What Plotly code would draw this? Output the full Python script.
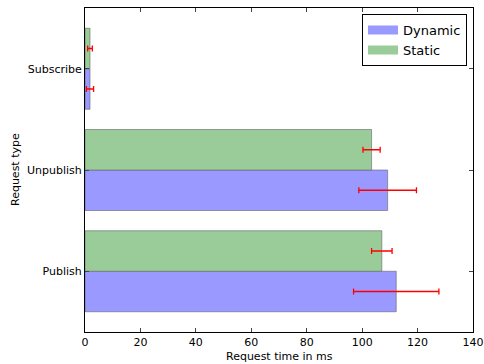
import plotly.graph_objects as go

categories = ["Publish", "Unpublish", "Subscribe"]
dynamic_values = [112.3, 109.2, 1.8]
dynamic_errors = [15.4, 10.4, 1.3]
static_values = [107.1, 103.4, 1.8]
static_errors = [3.7, 3.1, 0.85]

ypos = list(range(len(categories)))
edge = "rgba(100,100,100,0.6)"
dyn_color = "#9999ff"
sta_color = "#99cc99"

fig = go.Figure()
fig.add_trace(go.Bar(
    name="Dynamic", x=dynamic_values, y=ypos, orientation="h",
    width=0.4, offset=-0.4, showlegend=False, legendgroup="d",
    marker=dict(color=dyn_color, line=dict(color=edge, width=1)),
    error_x=dict(type="data", array=dynamic_errors, color="red", thickness=1.3, width=3),
))
fig.add_trace(go.Bar(
    name="Static", x=static_values, y=ypos, orientation="h",
    width=0.4, offset=0, showlegend=False, legendgroup="s",
    marker=dict(color=sta_color, line=dict(color=edge, width=1)),
    error_x=dict(type="data", array=static_errors, color="red", thickness=1.3, width=3),
))
# legend entries drawn as wide patches
fig.add_trace(go.Scatter(x=[None], y=[None], mode="lines", name="Dynamic",
                         legendgroup="d", line=dict(color=dyn_color, width=9)))
fig.add_trace(go.Scatter(x=[None], y=[None], mode="lines", name="Static",
                         legendgroup="s", line=dict(color=sta_color, width=9)))

fig.update_layout(
    width=484, height=364,
    margin=dict(l=85, r=11, t=8, b=32),
    barmode="overlay",
    plot_bgcolor="white", paper_bgcolor="white",
    font=dict(family="DejaVu Sans", size=11, color="black"),
    legend=dict(x=0.9845, y=0.981, xanchor="right", yanchor="top",
                bordercolor="black", borderwidth=1, bgcolor="white",
                font=dict(size=13), traceorder="normal", tracegroupgap=0),
    xaxis=dict(range=[0, 140], dtick=20, ticks="inside", ticklen=4,
               showline=True, linecolor="black", linewidth=1, mirror="ticks",
               showgrid=False, zeroline=False, automargin=False),
    yaxis=dict(range=[-0.6, 2.6], tickvals=ypos, ticktext=categories,
               ticks="inside", ticklen=4,
               showline=True, linecolor="black", linewidth=1, mirror="ticks",
               showgrid=False, zeroline=False, automargin=False),
    annotations=[
        dict(text="Request time in ms", xref="paper", yref="paper",
             x=0.5, y=0, yshift=-24, xanchor="center", yanchor="middle",
             showarrow=False, font=dict(size=11)),
        dict(text="Request type", xref="paper", yref="paper",
             x=0, y=0.5, xshift=-70, xanchor="center", yanchor="middle",
             textangle=-90, showarrow=False, font=dict(size=11)),
    ],
)

fig.write_html("out.html", config={"displayModeBar": False},
               post_script="document.body.style.margin='0';document.body.style.overflow='hidden';")
